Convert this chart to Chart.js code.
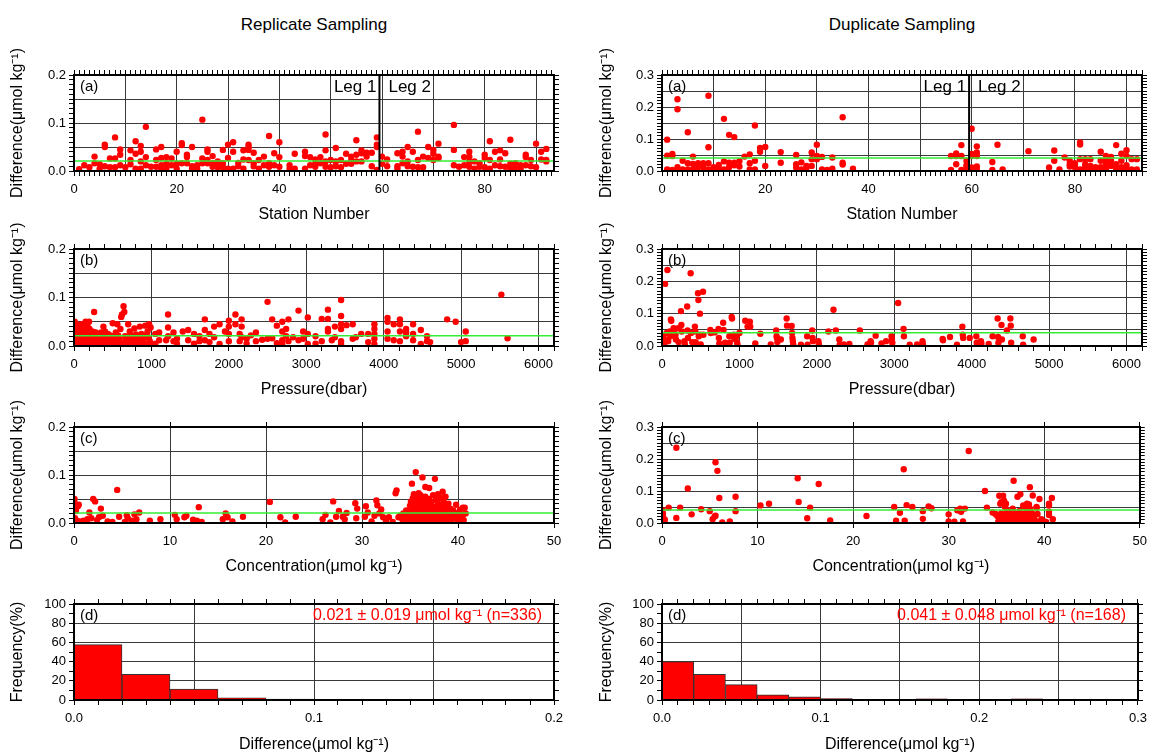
<!DOCTYPE html>
<html>
<head>
<meta charset="utf-8">
<title>Replicate and Duplicate Sampling</title>
<script src="https://cdn.jsdelivr.net/npm/chart.js@4.4.1/dist/chart.umd.min.js"></script>
<style>
  html, body { margin: 0; padding: 0; background: #fff; }
  #page { position: relative; width: 1153px; height: 755px; overflow: hidden; font-family: 'Liberation Sans', Arial, Helvetica, sans-serif; }
  .colTitle { position: absolute; top: 15px; width: 480px; text-align: center; font-size: 17px; color: #000; }
  canvas { position: absolute; }
</style>
</head>
<body>
<div id="page">
  <div class="colTitle" style="left:74px">Replicate Sampling</div>
  <div class="colTitle" style="left:662px">Duplicate Sampling</div>
</div>
<script>
// ---- data ----
const repMean = 0.021, repSd = 0.019, repN = 336;
const dupMean = 0.041, dupSd = 0.048, dupN = 168;
const legBoundary = 59.5;

// [station, difference]
const repStation = [
  [1,0.004],[2,0.012],[3,0.008],[4,0.03],[4,0.016],[5,0.014],[5,0.005],[6,0.055],[6,0.05],[6,0.01],[7,0.008],[7,0.026],
  [8,0.07],[8,0.026],[8,0.008],[9,0.045],[9,0.034],[9,0.012],[10,0.008],[11,0.043],[11,0.023],[11,0.014],[12,0.062],[12,0.036],
  [12,0.005],[13,0.052],[13,0.04],[13,0.02],[13,0.005],[14,0.092],[14,0.029],[14,0.012],[15,0.009],[16,0.045],[16,0.023],[16,0.009],
  [17,0.05],[17,0.027],[17,0.012],[17,0.005],[18,0.029],[18,0.016],[18,0.005],[19,0.026],[19,0.012],[20,0.04],[20,0.015],[20,0.005],
  [21,0.058],[21,0.054],[21,0.016],[22,0.034],[22,0.029],[22,0.016],[23,0.05],[23,0.01],[23,0.005],[24,0.012],[24,0.005],[25,0.107],
  [25,0.026],[25,0.016],[26,0.045],[26,0.04],[26,0.023],[26,0.016],[27,0.031],[27,0.016],[27,0.009],[28,0.02],[28,0.012],[28,0.008],
  [29,0.044],[29,0.016],[29,0.008],[30,0.055],[30,0.027],[30,0.005],[31,0.06],[31,0.04],[31,0.005],[32,0.017],[32,0.01],[33,0.043],
  [33,0.024],[33,0.005],[34,0.055],[34,0.05],[34,0.044],[34,0.023],[35,0.038],[35,0.016],[35,0.01],[36,0.023],[36,0.005],[37,0.03],
  [37,0.012],[38,0.073],[38,0.016],[38,0.009],[39,0.037],[39,0.012],[40,0.06],[40,0.029],[40,0.009],[42,0.012],[42,0.005],[43,0.036],
  [43,0.005],[45,0.04],[45,0.031],[45,0.005],[46,0.029],[46,0.012],[47,0.024],[47,0.015],[47,0.009],[48,0.029],[48,0.016],[49,0.076],
  [49,0.043],[49,0.02],[49,0.009],[50,0.023],[50,0.008],[51,0.048],[51,0.02],[51,0.01],[52,0.023],[52,0.008],[53,0.036],[53,0.015],
  [54,0.03],[54,0.022],[54,0.015],[55,0.064],[55,0.034],[55,0.02],[56,0.043],[56,0.037],[56,0.02],[57,0.038],[57,0.03],[58,0.038],
  [58,0.01],[59,0.07],[59,0.055],[59,0.05],[59,0.002],[60,0.03],[60,0.015],[61,0.024],[61,0.01],[63,0.037],[63,0.01],[63,0.005],
  [64,0.04],[64,0.03],[64,0.016],[65,0.05],[65,0.02],[65,0.01],[66,0.04],[66,0.009],[67,0.082],[67,0.023],[67,0.008],[68,0.03],
  [68,0.008],[69,0.05],[69,0.027],[70,0.044],[70,0.036],[70,0.023],[71,0.057],[71,0.03],[71,0.027],[74,0.096],[74,0.044],[74,0.012],
  [75,0.009],[76,0.029],[76,0.012],[77,0.04],[77,0.03],[77,0.02],[77,0.009],[78,0.02],[78,0.005],[79,0.016],[79,0.009],[80,0.034],
  [80,0.027],[80,0.008],[81,0.062],[81,0.023],[81,0.005],[82,0.04],[82,0.012],[83,0.043],[83,0.024],[83,0.01],[84,0.037],[84,0.009],
  [85,0.065],[85,0.015],[85,0.005],[86,0.016],[86,0.008],[87,0.012],[87,0.005],[88,0.034],[88,0.029],[88,0.012],[89,0.023],[89,0.01],
  [90,0.057],[90,0.008],[91,0.04],[91,0.024],[92,0.046],[92,0.023],[92,0.02]
];

// [pressure dbar, difference]
const repPressure = [
  [10,0.05],[20,0.035],[30,0.045],[40,0.025],[50,0.01],[60,0.04],[70,0.02],[80,0.005],[90,0.03],[100,0.045],[110,0.015],[120,0.025],
  [130,0.008],[150,0.05],[160,0.02],[180,0.012],[200,0.035],[220,0.005],[240,0.018],[260,0.07],[280,0.028],[300,0.012],[320,0.022],
  [340,0.006],[360,0.015],[380,0.04],[400,0.03],[420,0.01],[440,0.025],[460,0.004],[480,0.018],[500,0.047],[520,0.012],[540,0.028],
  [560,0.045],[580,0.008],[600,0.035],[610,0.06],[620,0.065],[640,0.082],[650,0.07],[660,0.02],[680,0.012],[700,0.045],[720,0.03],
  [740,0.006],[760,0.018],[780,0.036],[800,0.024],[820,0.01],[850,0.04],[870,0.025],[900,0.015],[920,0.042],[950,0.03],[970,0.045],
  [990,0.038],[1000,0.005],[15,0.008],[35,0.015],[45,0.003],[65,0.012],[85,0.018],[105,0.006],[125,0.02],[145,0.01],[170,0.003],
  [190,0.015],[210,0.024],[230,0.01],[250,0.006],[270,0.015],[290,0.004],[310,0.02],[330,0.012],[350,0.028],[370,0.004],[390,0.01],
  [410,0.018],[430,0.006],[450,0.012],[470,0.022],[490,0.008],[510,0.003],[530,0.016],[550,0.006],[570,0.022],[590,0.014],[630,0.005],
  [670,0.01],[690,0.004],[710,0.015],[730,0.022],[750,0.012],[770,0.005],[790,0.01],[810,0.02],[830,0.004],[860,0.014],[880,0.008],
  [910,0.022],[930,0.004],[960,0.018],[980,0.01],[5,0.03],[25,0.022],[55,0.028],[75,0.033],[95,0.012],[115,0.04],[135,0.03],
  [175,0.04],[195,0.05],[5,0.01],[12,0.02],[18,0.004],[28,0.012],[38,0.006],[48,0.018],[58,0.002],[68,0.024],[78,0.014],[88,0.008],
  [98,0.02],[108,0.028],[118,0.004],[138,0.016],[158,0.008],[185,0.026],[205,0.014],[225,0.02],[235,0.03],[255,0.002],[265,0.028],
  [285,0.018],[305,0.003],[345,0.018],[365,0.026],[385,0.02],[405,0.008],
  [1050,0.025],[1050,0.005],[1100,0.028],[1100,0.012],[1190,0.012],[1215,0.065],[1215,0.038],[1215,0.02],[1285,0.028],[1285,0.01],
  [1330,0.015],[1330,0.005],[1405,0.03],[1475,0.033],[1475,0.012],[1550,0.025],[1550,0.005],[1620,0.02],[1620,0.01],[1690,0.055],
  [1690,0.033],[1690,0.012],[1750,0.025],[1750,0.008],[1810,0.04],[1810,0.018],[1880,0.045],[1880,0.004],[1950,0.03],[2000,0.052],
  [2000,0.04],[2000,0.025],[2000,0.01],[2085,0.065],[2085,0.045],[2140,0.025],[2140,0.01],[2165,0.055],[2165,0.04],[2165,0.018],
  [2230,0.015],[2230,0.005],[2285,0.022],[2350,0.028],[2350,0.01],[2430,0.013],[2500,0.091],[2500,0.015],[2560,0.055],[2560,0.016],
  [2620,0.042],[2620,0.006],[2690,0.05],[2690,0.03],[2690,0.012],[2690,0.004],[2740,0.035],[2740,0.02],[2770,0.055],[2770,0.01],
  [2830,0.018],[2900,0.073],[2900,0.012],[2960,0.03],[2960,0.015],[3020,0.059],[3020,0.025],[3020,0.004],[3120,0.02],[3120,0.005],
  [3200,0.056],[3200,0.01],[3280,0.075],[3280,0.056],[3280,0.035],[3280,0.03],[3330,0.012],[3370,0.04],[3370,0.018],[3450,0.095],
  [3450,0.062],[3450,0.045],[3450,0.035],[3450,0.01],[3450,0.004],[3520,0.043],[3600,0.045],[3600,0.015],[3640,0.018],[3710,0.025],
  [3800,0.025],[3800,0.008],[3880,0.045],[3880,0.035],[3880,0.025],[3880,0.015],[3880,0.004],[4050,0.058],[4050,0.05],[4050,0.03],
  [4050,0.015],[4130,0.045],[4130,0.012],[4210,0.055],[4210,0.045],[4210,0.03],[4210,0.01],[4290,0.035],[4290,0.028],[4290,0.02],
  [4380,0.045],[4380,0.025],[4380,0.012],[4480,0.033],[4480,0.004],[4560,0.02],[4560,0.01],[4600,0.008],[4820,0.055],[4930,0.05],
  [5000,0.008],[5060,0.03],[5060,0.01],[5520,0.106],[5600,0.016]
];

// [concentration, difference]
const repConc = [
  [0.05,0.05],[0.1,0.04],[0.2,0.025],[0.1,0.01],[0.3,0.005],[0.4,0.035],[0.5,0.038],[0.6,0.003],[1.0,0.005],[1.4,0.008],[1.6,0.022],
  [1.8,0.01],[2.0,0.05],[2.2,0.045],[2.4,0.006],[2.6,0.012],[2.8,0.03],[3.0,0.015],[3.5,0.003],[4.0,0.002],[4.5,0.069],[4.7,0.013],
  [5.3,0.002],[5.5,0.016],[5.6,0.01],[6.0,0.005],[6.3,0.018],[6.5,0.008],[6.8,0.022],[7.9,0.005],[9.0,0.008],[10.5,0.017],[10.7,0.008],
  [11.5,0.012],[11.7,0.015],[12.4,0.007],[12.8,0.005],[13.0,0.033],[13.3,0.002],[15.5,0.008],[15.8,0.02],[16.0,0.012],[16.5,0.003],
  [17.6,0.013],[20.4,0.044],[21.5,0.012],[22.0,0.001],[23.1,0.013],[25.9,0.008],[26.2,0.017],[26.7,0.001],[27.0,0.045],[27.3,0.013],
  [27.6,0.025],[28.0,0.013],[28.2,0.008],[28.4,0.021],[29.3,0.041],[29.5,0.03],[29.4,0.01],[30.3,0.013],[30.4,0.035],[30.6,0.022],
  [31.0,0.003],[31.3,0.015],[31.5,0.047],[31.6,0.037],[31.8,0.02],[32.0,0.028],[32.2,0.012],[32.5,0.005],[32.8,0.012],[33.2,0.002],
  [33.5,0.062],[33.6,0.068],[33.8,0.012],[34.0,0.015],[34.2,0.008],[34.3,0.02],[34.5,0.003],
  [34.6,0.012],[34.6,0.026],[34.8,0.005],[34.8,0.018],[35.0,0.002],[35.0,0.01],[35.0,0.022],[35.0,0.036],[35.1,0.045],[35.2,0.082],
  [35.2,0.004],[35.2,0.015],[35.2,0.028],[35.3,0.04],[35.3,0.052],[35.4,0.06],[35.4,0.001],[35.4,0.008],[35.5,0.018],[35.5,0.032],
  [35.6,0.106],[35.6,0.042],[35.6,0.056],[35.7,0.003],[35.7,0.012],[35.8,0.024],[35.8,0.038],[35.9,0.05],[35.9,0.062],[36.0,0.005],
  [36.0,0.016],[36.0,0.028],[36.1,0.045],[36.1,0.058],[36.2,0.002],[36.2,0.01],[36.3,0.095],[36.3,0.022],[36.3,0.035],[36.4,0.048],
  [36.5,0.006],[36.5,0.015],[36.6,0.075],[36.6,0.03],[36.6,0.055],[36.7,0.04],[36.8,0.002],[36.8,0.012],[36.9,0.024],[37.0,0.073],
  [37.0,0.05],[37.0,0.036],[37.1,0.006],[37.2,0.018],[37.2,0.044],[37.3,0.028],[37.4,0.01],[37.4,0.058],[37.5,0.002],[37.5,0.034],
  [37.6,0.092],[37.6,0.02],[37.7,0.048],[37.8,0.008],[37.8,0.026],[37.9,0.06],[37.9,0.04],[38.0,0.014],[38.0,0.003],[38.1,0.03],
  [38.2,0.052],[38.2,0.02],[38.3,0.008],[38.4,0.065],[38.4,0.038],[38.5,0.025],[38.5,0.045],[38.6,0.012],[38.6,0.002],[38.7,0.055],
  [38.8,0.032],[38.8,0.018],[38.9,0.006],[39.0,0.04],[39.0,0.024],[39.1,0.012],[39.2,0.03],[39.3,0.004],[39.4,0.018],[39.5,0.026],
  [39.6,0.01],[39.8,0.038],[39.9,0.015],[40.0,0.004],[40.1,0.022],[40.2,0.027],[40.3,0.01],[40.4,0.002],[40.5,0.032],[40.5,0.016],
  [40.6,0.006],[40.7,0.032],[40.8,0.02]
];

const dupStation = [
  [1,0.098],[1,0.048],[1,0.005],[2,0.053],[2,0.047],[2,0.003],[3,0.224],[3,0.193],[3,0.012],[4,0.032],[4,0.005],[5,0.121],[5,0.024],
  [5,0.005],[6,0.045],[6,0.022],[6,0.005],[7,0.024],[7,0.012],[8,0.024],[8,0.012],[9,0.235],[9,0.074],[9,0.024],[9,0.005],[10,0.012],
  [10,0.005],[11,0.019],[11,0.008],[12,0.163],[12,0.03],[12,0.005],[13,0.113],[13,0.026],[13,0.012],[14,0.106],[14,0.026],[14,0.018],
  [15,0.031],[15,0.014],[16,0.045],[17,0.052],[17,0.024],[17,0.005],[18,0.142],[18,0.032],[18,0.005],[19,0.072],[19,0.06],[20,0.075],
  [20,0.016],[23,0.059],[23,0.026],[26,0.05],[26,0.021],[26,0.011],[27,0.027],[27,0.005],[28,0.016],[28,0.011],[29,0.058],[29,0.037],
  [29,0.016],[30,0.082],[30,0.047],[30,0.037],[31,0.044],[31,0.005],[32,0.003],[33,0.042],[33,0.007],[35,0.168],[35,0.026],[35,0.02],
  [37,0.007],[56,0.047],[56,0.003],[57,0.055],[57,0.047],[57,0.021],[58,0.081],[58,0.047],[58,0.003],[59,0.032],[59,0.018],[59,0.012],
  [60,0.132],[60,0.053],[60,0.047],[60,0.011],[61,0.077],[61,0.058],[61,0.047],[61,0.014],[61,0.003],[64,0.028],[64,0.003],[65,0.082],
  [66,0.005],[71,0.062],[75,0.011],[76,0.064],[76,0.032],[77,0.005],[78,0.042],[79,0.032],[79,0.021],[79,0.014],[80,0.024],[80,0.018],
  [80,0.012],[81,0.089],[81,0.083],[81,0.037],[81,0.005],[82,0.037],[82,0.021],[82,0.012],[83,0.037],[83,0.016],[83,0.005],[84,0.012],
  [84,0.005],[85,0.06],[85,0.032],[85,0.012],[86,0.047],[86,0.032],[86,0.021],[86,0.005],[87,0.044],[87,0.032],[87,0.016],[88,0.081],
  [88,0.021],[88,0.005],[89,0.054],[89,0.032],[89,0.012],[90,0.065],[90,0.047],[90,0.018],[90,0.005],[91,0.037],[91,0.005],[92,0.037],
  [92,0.005]
];

const dupPressure = [
  [40,0.192],[70,0.235],[10,0.03],[20,0.01],[30,0.005],[50,0.02],[60,0.04],[80,0.015],[100,0.045],[110,0.03],[115,0.082],[120,0.078],
  [150,0.055],[155,0.048],[175,0.035],[180,0.02],[210,0.055],[215,0.012],[245,0.108],[250,0.065],[255,0.045],[290,0.015],[295,0.005],
  [325,0.122],[330,0.048],[335,0.025],[370,0.225],[375,0.04],[390,0.012],[425,0.06],[430,0.045],[435,0.012],[465,0.163],[470,0.142],
  [475,0.03],[490,0.1],[495,0.035],[500,0.005],[530,0.168],[535,0.035],[625,0.05],[630,0.04],[680,0.042],[730,0.053],[735,0.025],
  [740,0.008],[790,0.072],[795,0.05],[815,0.01],[870,0.03],[875,0.01],[900,0.09],[905,0.085],[910,0.032],[930,0.035],[935,0.022],
  [965,0.03],[970,0.012],[975,0.004],[1000,0.04],[1075,0.078],[1105,0.06],[1135,0.075],[1140,0.06],[1205,0.008],[1270,0.038],
  [1405,0.005],[1475,0.048],[1480,0.03],[1485,0.025],[1490,0.012],[1535,0.02],[1610,0.085],[1615,0.063],[1675,0.062],[1680,0.04],
  [1685,0.025],[1690,0.015],[1695,0.005],[1795,0.004],[1875,0.03],[1880,0.004],[1940,0.048],[1945,0.025],[1950,0.015],[2020,0.015],
  [2025,0.006],[2150,0.045],[2215,0.112],[2245,0.048],[2290,0.02],[2295,0.004],[2350,0.005],[2420,0.006],[2555,0.048],[2655,0.005],
  [2695,0.015],[2700,0.01],[2760,0.032],[2835,0.008],[2895,0.015],[2965,0.03],[2970,0.02],[2975,0.01],[3050,0.133],[3120,0.053],
  [3125,0.03],[3200,0.004],[3295,0.005],[3365,0.015],[3370,0.005],[3625,0.022],[3630,0.018],[3720,0.028],[3810,0.004],[3880,0.06],
  [3885,0.035],[3890,0.025],[3975,0.025],[4060,0.03],[4065,0.01],[4120,0.015],[4125,0.008],[4220,0.006],[4270,0.03],[4335,0.085],
  [4340,0.028],[4345,0.01],[4385,0.065],[4390,0.02],[4455,0.048],[4500,0.085],[4505,0.063],[4510,0.01],[4660,0.03],[4665,0.004],
  [4800,0.02]
];

const dupConc = [
  [0.05,0.04],[0.1,0.03],[0.1,0.02],[0.2,0.012],[0.05,0.005],[0.3,0.01],[0.7,0.048],[1.5,0.235],[1.5,0.016],[1.9,0.048],[2.7,0.108],
  [3.1,0.027],[4.1,0.043],[5.0,0.037],[5.3,0.012],[5.5,0.02],[5.6,0.023],[5.6,0.19],[5.8,0.163],[6.0,0.078],[6.3,0.002],[7.1,0.005],
  [7.7,0.082],[7.7,0.037],[10.3,0.055],[11.2,0.06],[14.2,0.14],[14.3,0.066],[15.2,0.015],[15.5,0.048],[16.4,0.122],[17.6,0.008],
  [21.4,0.022],[24.3,0.05],[24.5,0.007],[24.9,0.032],[25.3,0.168],[25.4,0.007],[25.6,0.056],[26.2,0.05],[27.3,0.037],[27.3,0.013],
  [27.9,0.052],[28.2,0.046],[30.0,0.027],[30.0,0.005],[30.6,0.004],[30.9,0.04],[31.2,0.045],[31.3,0.035],[31.5,0.005],[31.7,0.045],
  [32.1,0.225],[33.8,0.1],[34.0,0.048],[34.6,0.033],[34.9,0.028],[35.1,0.022],[35.3,0.085],[35.4,0.06],[35.5,0.065],[35.7,0.085],
  [35.8,0.07],[35.9,0.05],[36.0,0.06],[36.8,0.132],[37.5,0.09],[37.2,0.082],[38.5,0.112],[38.8,0.086],[39.5,0.075],[40.5,0.06],
  [40.5,0.055],[40.8,0.078],[40.9,0.012],[40.5,0.035],[40.5,0.025],[38.2,0.06],[37.8,0.055],[39.2,0.05],
  [35.2,0.005],[35.4,0.012],[35.5,0.03],[35.6,0.002],[35.8,0.018],[35.9,0.008],[36.0,0.025],[36.1,0.04],[36.2,0.004],[36.3,0.014],
  [36.4,0.03],[36.5,0.02],[36.6,0.008],[36.7,0.045],[36.8,0.002],[36.9,0.016],[37.0,0.03],[37.1,0.01],[37.2,0.022],[37.3,0.004],
  [37.4,0.038],[37.5,0.014],[37.6,0.028],[37.7,0.006],[37.8,0.02],[37.9,0.05],[38.0,0.012],[38.1,0.034],[38.2,0.002],[38.3,0.024],
  [38.4,0.058],[38.5,0.045],[38.6,0.016],[38.7,0.032],[38.8,0.006],[38.9,0.022],[39.0,0.01],[39.2,0.048],[39.3,0.028],[39.5,0.004],
  [39.7,0.012],[40.0,0.005],[40.2,0.003]
];

// histogram: bin centres (width 0.02) and frequency in %
const histBinCentres = [0.01,0.03,0.05,0.07,0.09,0.11,0.13,0.15,0.17,0.19,0.21,0.23,0.25,0.27,0.29];
const repHistPct = [57.6, 26.8, 11.5, 2.2, 0.9, 0.6, 0, 0, 0, 0];
const dupHistPct = [40, 26.8, 16, 5.4, 3.3, 1.6, 0.6, 0.6, 1.2, 0.6, 0, 1.2, 0, 0, 0];

// ---- axis ranges ----
const stationRep = { min: 0, max: 93.5, step: 1, grid: 10, label: 20, digits: 0 };
const stationDup = { min: 0, max: 93, step: 1, grid: 10, label: 20, digits: 0 };
const pressureAx = { min: 0, max: 6200, step: 200, grid: 1000, label: 1000, digits: 0 };
const concAx = { min: 0, max: 50, step: 10, grid: 10, label: 10, digits: 0 };
const diffRep = { min: 0, max: 0.2, step: 0.01, grid: 0.05, label: 0.1, digits: 1 };
const diffDup = { min: 0, max: 0.3, step: 0.01, grid: 0.05, label: 0.1, digits: 1 };
const freqAx = { min: 0, max: 100, step: 10, grid: 20, label: 20, digits: 0 };
const histRep = { min: 0, max: 0.2, step: 0.01, grid: 0.05, label: 0.1, digits: 1 };
const histDup = { min: 0, max: 0.3, step: 0.01, grid: 0.05, label: 0.1, digits: 1 };

// ---- layout (page pixels) ----
const COLS = [
  { left: 0, width: 580, plotL: 74, plotR: 554, yTitlePad: 8 },
  { left: 586, width: 567, plotL: 662, plotR: 1142, yTitlePad: 11 }
];
const ROWS = [
  { top: 35, bottom: 228, plotT: 75, plotB: 171, titleY: 215 },
  { top: 208, bottom: 400, plotT: 249, plotB: 346, titleY: 390 },
  { top: 388, bottom: 578, plotT: 427, plotB: 523, titleY: 567 },
  { top: 578, bottom: 755, plotT: 604, plotB: 700, titleY: 745 }
];

const FONT = "'Liberation Sans', Arial, Helvetica, sans-serif";
Chart.defaults.font.family = FONT;
Chart.defaults.color = '#000';
const DIFF_TITLE = 'Difference(\u03bcmol kg\u207b\u00b9)';

function onStep(v, s) {
  const r = v / s;
  return Math.abs(r - Math.round(r)) < 1e-6;
}

function axis(spec, position, size, titleText, titlePad) {
  const horizontal = position === 'bottom' || position === 'top';
  const main = position === 'bottom' || position === 'left';
  const opts = {
    type: 'linear',
    position,
    min: spec.min,
    max: spec.max,
    offset: false,
    border: { display: true, color: '#000', width: 2, z: 1 },
    grid: {
      drawOnChartArea: main,
      offset: false,
      color: ctx => (ctx.tick && onStep(ctx.tick.value, spec.grid)) ? '#3a3a3a' : 'rgba(0,0,0,0)',
      tickColor: '#000',
      tickLength: 5,
      lineWidth: 1
    },
    ticks: {
      display: main,
      stepSize: spec.step,
      includeBounds: false,
      autoSkip: false,
      maxRotation: 0,
      minRotation: 0,
      padding: horizontal ? 6 : 3,
      color: '#000',
      font: { size: 13 },
      callback: v => onStep(v, spec.label) ? Number(v).toFixed(spec.digits) : ''
    },
    afterFit: s => { if (horizontal) s.height = size; else s.width = size; }
  };
  if (titleText) {
    opts.title = {
      display: true, text: titleText, color: '#000', font: { size: 16 },
      padding: horizontal ? { top: 0, bottom: titlePad } : { top: titlePad, bottom: 0 }
    };
  }
  return opts;
}

// panel letter, Leg 1 / Leg 2 labels and the statistics note
const panelText = {
  id: 'panelText',
  afterDraw(chart, args, opts) {
    const { ctx, chartArea: a, scales } = chart;
    ctx.save();
    ctx.textBaseline = 'middle';
    ctx.fillStyle = '#000';
    ctx.font = '15px ' + FONT;
    ctx.textAlign = 'left';
    ctx.fillText(opts.letter, a.left + 6, a.top + 12);
    if (opts.leg !== undefined) {
      const x = scales.x.getPixelForValue(opts.leg);
      ctx.font = '17px ' + FONT;
      ctx.textAlign = 'right';
      ctx.fillText('Leg 1', x - 3, a.top + 12);
      ctx.textAlign = 'left';
      ctx.fillText('Leg 2', x + 9, a.top + 12);
    }
    if (opts.note) {
      ctx.fillStyle = '#ff0000';
      ctx.font = '16px ' + FONT;
      ctx.textAlign = 'right';
      ctx.fillText(opts.note, a.right - 12, a.top + 12);
    }
    ctx.restore();
  }
};

const page = document.getElementById('page');

function panel(col, row, type, datasets, xSpec, ySpec, xTitle, yTitle, text) {
  const canvas = document.createElement('canvas');
  const w = col.width, h = row.bottom - row.top;
  canvas.width = w;
  canvas.height = h;
  canvas.style.left = col.left + 'px';
  canvas.style.top = row.top + 'px';
  canvas.style.width = w + 'px';
  canvas.style.height = h + 'px';
  page.appendChild(canvas);
  const lh = 16 * 1.2;
  new Chart(canvas, {
    type,
    data: { datasets },
    options: {
      responsive: false,
      animation: false,
      events: [],
      layout: { padding: 0 },
      plugins: { legend: { display: false }, tooltip: { enabled: false }, panelText: text },
      scales: {
        x: axis(xSpec, 'bottom', row.bottom - row.plotB, xTitle, row.bottom - row.titleY - lh / 2),
        x2: axis(xSpec, 'top', row.plotT - row.top),
        y: axis(ySpec, 'left', col.plotL - col.left, yTitle, col.yTitlePad),
        y2: axis(ySpec, 'right', col.left + col.width - col.plotR)
      }
    },
    plugins: [panelText]
  });
}

function scatterSets(points, mean, xSpec, ySpec, withLeg) {
  const sets = [];
  if (withLeg) {
    sets.push({
      data: [[legBoundary, ySpec.min], [legBoundary, ySpec.max]],
      showLine: true, borderColor: '#000', borderWidth: 2, pointRadius: 0, clip: 0
    });
  }
  sets.push({
    data: [[xSpec.min, mean], [xSpec.max, mean]],
    showLine: true, borderColor: '#33ee33', borderWidth: 1.5, pointRadius: 0, clip: 0
  });
  sets.push({
    data: points,
    showLine: false,
    pointRadius: 3.2,
    pointBorderWidth: 0,
    backgroundColor: '#ff0000',
    borderColor: '#ff0000',
    clip: 0
  });
  return sets;
}

function histSet(pct) {
  return [{
    data: pct.map((v, i) => ({ x: histBinCentres[i], y: v })),
    backgroundColor: '#ff0000',
    borderColor: '#333',
    borderWidth: 1,
    barThickness: 'flex',
    barPercentage: 1,
    categoryPercentage: 1
  }];
}

const repNote = repMean.toFixed(3) + ' \u00b1 ' + repSd.toFixed(3) + ' \u03bcmol kg\u207b\u00b9 (n=' + repN + ')';
const dupNote = dupMean.toFixed(3) + ' \u00b1 ' + dupSd.toFixed(3) + ' \u03bcmol kg\u207b\u00b9 (n=' + dupN + ')';

// left column: replicate sampling
panel(COLS[0], ROWS[0], 'scatter', scatterSets(repStation, repMean, stationRep, diffRep, true),
  stationRep, diffRep, 'Station Number', DIFF_TITLE, { letter: '(a)', leg: legBoundary });
panel(COLS[0], ROWS[1], 'scatter', scatterSets(repPressure, repMean, pressureAx, diffRep, false),
  pressureAx, diffRep, 'Pressure(dbar)', DIFF_TITLE, { letter: '(b)' });
panel(COLS[0], ROWS[2], 'scatter', scatterSets(repConc, repMean, concAx, diffRep, false),
  concAx, diffRep, 'Concentration(\u03bcmol kg\u207b\u00b9)', DIFF_TITLE, { letter: '(c)' });
panel(COLS[0], ROWS[3], 'bar', histSet(repHistPct),
  histRep, freqAx, DIFF_TITLE, 'Frequency(%)', { letter: '(d)', note: repNote });

// right column: duplicate sampling
panel(COLS[1], ROWS[0], 'scatter', scatterSets(dupStation, dupMean, stationDup, diffDup, true),
  stationDup, diffDup, 'Station Number', DIFF_TITLE, { letter: '(a)', leg: legBoundary });
panel(COLS[1], ROWS[1], 'scatter', scatterSets(dupPressure, dupMean, pressureAx, diffDup, false),
  pressureAx, diffDup, 'Pressure(dbar)', DIFF_TITLE, { letter: '(b)' });
panel(COLS[1], ROWS[2], 'scatter', scatterSets(dupConc, dupMean, concAx, diffDup, false),
  concAx, diffDup, 'Concentration(\u03bcmol kg\u207b\u00b9)', DIFF_TITLE, { letter: '(c)' });
panel(COLS[1], ROWS[3], 'bar', histSet(dupHistPct),
  histDup, freqAx, DIFF_TITLE, 'Frequency(%)', { letter: '(d)', note: dupNote });
</script>
</body>
</html>
